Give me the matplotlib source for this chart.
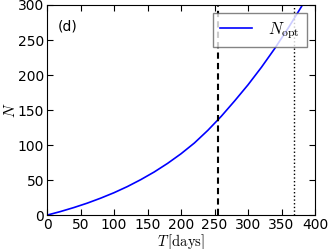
import matplotlib
matplotlib.use('Agg')
import matplotlib.pyplot as plt

# dane
T_days = [0, 20, 40, 60, 80, 100, 120, 140, 160, 180, 200, 220, 240, 260, 280, 300, 320, 340, 360, 380, 400]
N_opt = [0, 5.1, 10.8, 17.1, 24.2, 32.0, 40.8, 50.7, 61.6, 73.9, 87.6, 103, 121, 141, 163, 186, 211, 238, 267, 298, 332]
T_dashed = 255
T_dotted = 368

plt.rcParams['mathtext.fontset'] = 'cm'
plt.rcParams['font.size'] = 10

fig = plt.figure(figsize=(3.32, 2.49), dpi=100)
ax = fig.add_axes([0.1416, 0.136, 0.8072, 0.844])

ax.plot(T_days, N_opt, color='b', lw=1.2, label=r'$N_{\mathrm{opt}}$')
ax.axvline(T_dashed, color='k', ls=(0, (3, 2)), lw=1.5)
ax.axvline(T_dotted, color='k', ls=':', lw=1)

ax.set_xlim(0, 400)
ax.set_ylim(0, 300)
ax.set_xticks(range(0, 401, 50))
ax.set_yticks(range(0, 301, 50))
ax.tick_params(direction='in', top=True, right=True, length=4, pad=2)

ax.set_xlabel(r'$T\,[\mathrm{days}]$', fontsize=10.5, labelpad=0)
ax.set_ylabel(r'$N$', fontsize=11, labelpad=0)
ax.text(0.04, 0.93, '(d)', transform=ax.transAxes, va='top')

leg = ax.legend(loc='upper right', fancybox=False, fontsize=12, handlelength=1.9,
                handletextpad=1.0, borderpad=0.4, borderaxespad=0.5)
leg.get_frame().set_edgecolor('0.4')

plt.savefig('out.png', dpi=100)
